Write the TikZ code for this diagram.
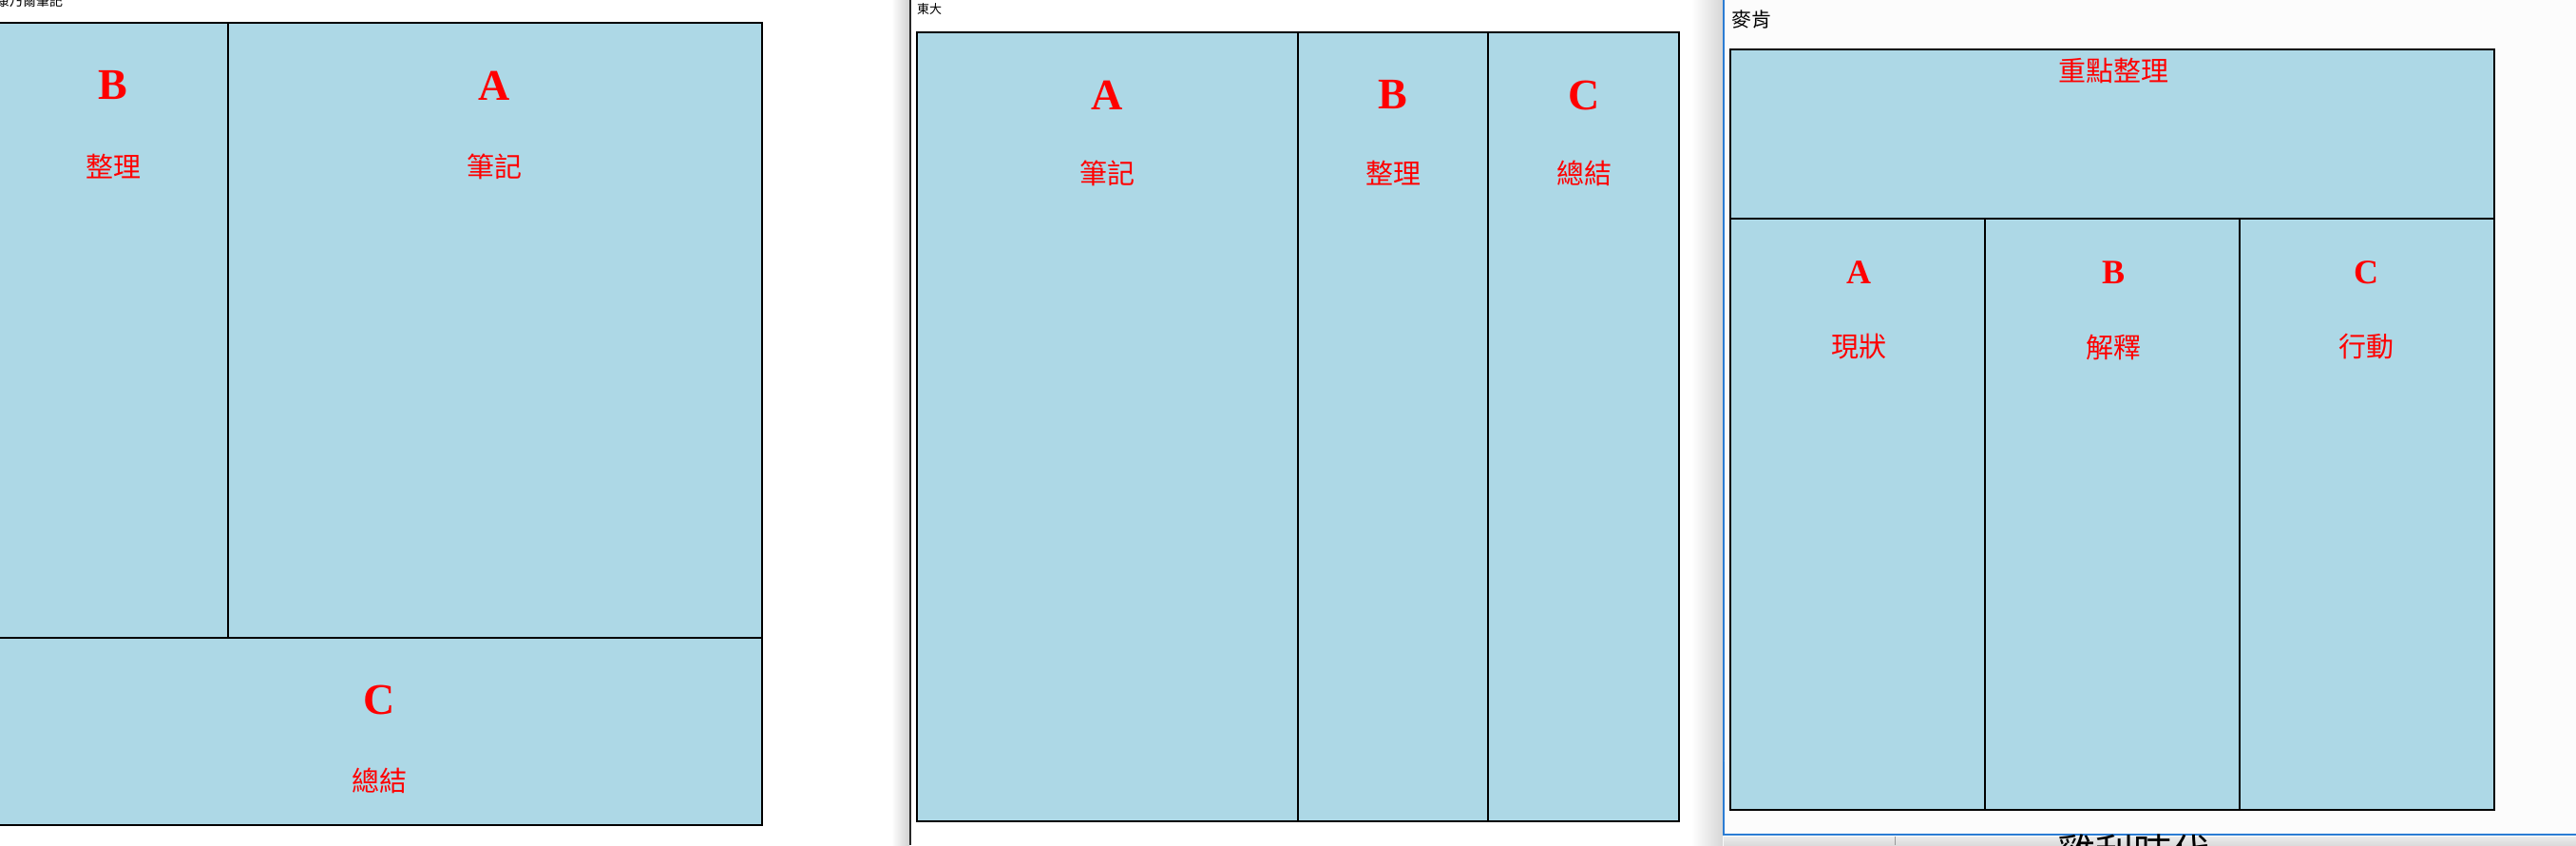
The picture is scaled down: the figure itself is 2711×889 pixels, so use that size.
\documentclass[tikz,border=0pt]{standalone}
\usepackage{fontspec}
\setmainfont{Liberation Serif}
\newfontfamily\cjkf{Noto Sans CJK TC}
\definecolor{panelblue}{HTML}{ADD8E6}
\definecolor{winblue}{HTML}{2B7CD3}
\definecolor{winbg}{HTML}{FCFCFC}
\tikzset{
  panel/.style={fill=panelblue, draw=black, line width=1.6pt},
  divline/.style={draw=black, line width=1.6pt},
  letterlbl/.style={text=red, font=\fontsize{46}{50}\selectfont\bfseries, inner sep=0pt},
  wordlbl/.style={text=red, font=\cjkf\fontsize{29}{33}\selectfont, inner sep=0pt},
  titlelbl/.style={text=black, font=\cjkf\fontsize{14}{16}\selectfont, inner sep=0pt, anchor=west},
}
\begin{document}
\begin{tikzpicture}[x=1pt,y=-1pt]
\useasboundingbox (0,0) rectangle (2711,889);
\fill[white] (0,0) rectangle (2711,889);

% ---------- Cornell panel ----------
\node[titlelbl] (ctitle) at (-4,1) {康乃爾筆記};
\path[panel] (-5,24) rectangle (802,868);
\draw[divline] (240,24) -- (240,671);
\draw[divline] (-5,671) -- (802,671);
\node[letterlbl] (cB) at (119,90) {B};
\node[wordlbl] (cBw) at (119,175) {整理};
\node[letterlbl] (cA) at (520,90) {A};
\node[wordlbl] (cAw) at (520,175) {筆記};
\node[letterlbl] (cC) at (399,736) {C};
\node[wordlbl] (cCw) at (399,821) {總結};

% ---------- middle window chrome ----------
\shade[left color=white, right color=black!18] (938,0) rectangle (957,889);
\draw[black!85, line width=1.6pt] (958,0) -- (958,889);

% ---------- Todai panel ----------
\node[titlelbl, font=\cjkf\fontsize{13}{15}\selectfont] (ttitle) at (965,10) {東大};
\path[panel] (965,34) rectangle (1767,864);
\draw[divline] (1366,34) -- (1366,864);
\draw[divline] (1566,34) -- (1566,864);
\node[letterlbl] (tA) at (1165,100) {A};
\node[wordlbl] (tAw) at (1165,182) {筆記};
\node[letterlbl] (tB) at (1466,100) {B};
\node[wordlbl] (tBw) at (1466,182) {整理};
\node[letterlbl] (tC) at (1667,100) {C};
\node[wordlbl] (tCw) at (1667,182) {總結};

% ---------- right window chrome ----------
\shade[left color=white, right color=black!16] (1780,0) rectangle (1813,889);
\fill[winbg] (1814,0) rectangle (2711,878);
\draw[winblue, line width=1.8pt] (1814,0) -- (1814,878) -- (2711,878);
\shade[top color=black!8, bottom color=black!14] (1814,880) rectangle (2711,889);
\draw[black!40, line width=1pt] (1994,880) -- (1994,889);
\node[text=black, font=\cjkf\fontsize{40}{44}\selectfont, inner sep=0pt, anchor=north west] (bartext) at (2165,878) {雞利時代};
\fill[white] (1814,800) rectangle (1815,800);

% ---------- McKinsey panel ----------
\node[titlelbl, font=\cjkf\fontsize{21}{24}\selectfont] (mtitle) at (1822,21) {麥肯};
\path[panel] (1821,52) rectangle (2625,852);
\draw[divline] (1821,230) -- (2625,230);
\draw[divline] (2089,230) -- (2089,852);
\draw[divline] (2357,230) -- (2357,852);
\node[wordlbl] (mtop) at (2224,74) {重點整理};
\node[letterlbl, font=\fontsize{36}{40}\selectfont\bfseries] (mA) at (1956,287) {A};
\node[wordlbl] (mAw) at (1956,365) {現狀};
\node[letterlbl, font=\fontsize{36}{40}\selectfont\bfseries] (mB) at (2224,287) {B};
\node[wordlbl] (mBw) at (2224,365) {解釋};
\node[letterlbl, font=\fontsize{36}{40}\selectfont\bfseries] (mC) at (2490,287) {C};
\node[wordlbl] (mCw) at (2490,365) {行動};
\end{tikzpicture}
\end{document}
